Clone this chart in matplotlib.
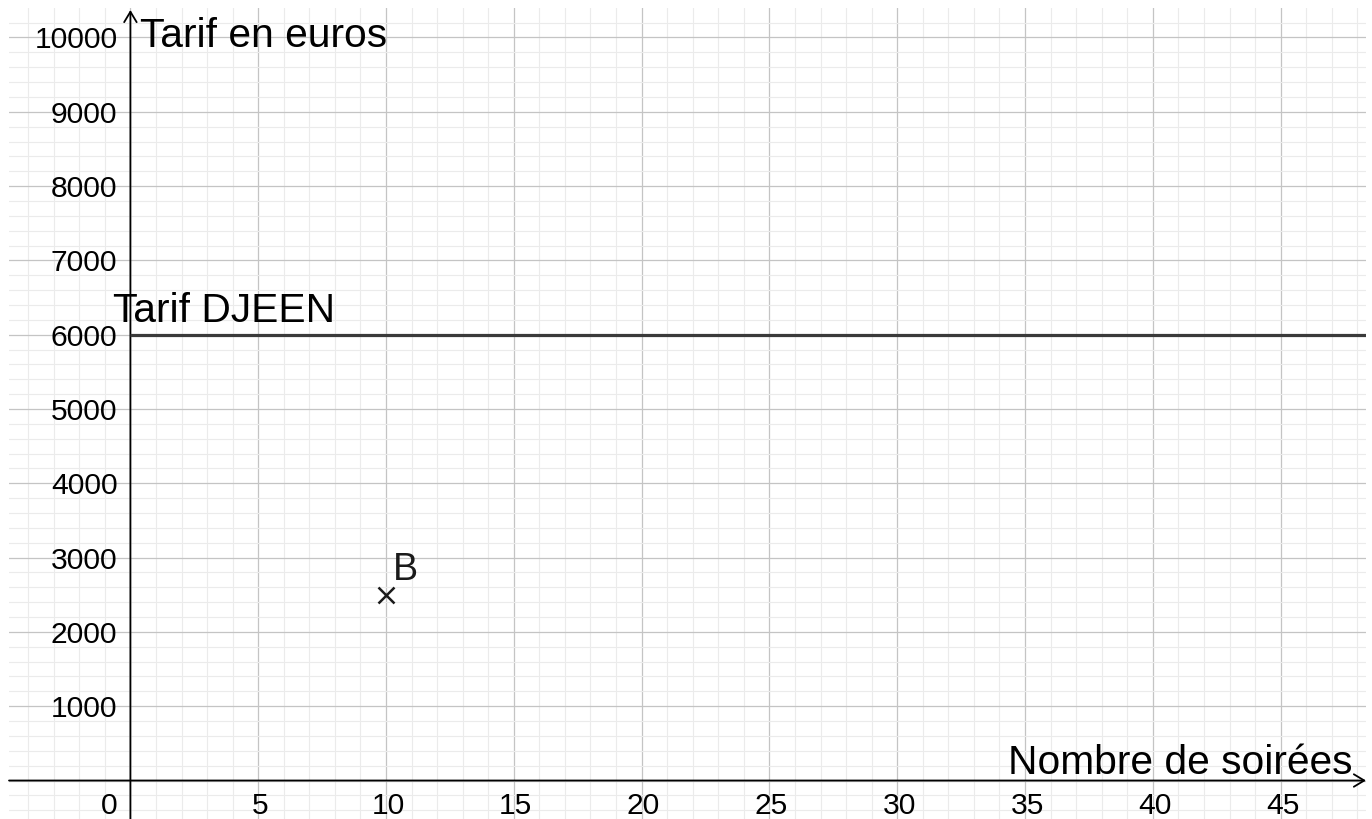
import matplotlib
matplotlib.use("Agg")
import matplotlib.pyplot as plt
from matplotlib.ticker import MultipleLocator

plt.rcParams['font.family'] = ['Liberation Sans', 'DejaVu Sans']

# ---- data ----
x_tick_values = [5, 10, 15, 20, 25, 30, 35, 40, 45]
y_tick_values = [1000, 2000, 3000, 4000, 5000, 6000, 7000, 8000, 9000, 10000]
djeen_tarif = 6000
djeen_x = [0, 48.34]
point_B_x = [10]
point_B_y = [2500]
point_B_name = "B"
x_label = "Nombre de soirées"
y_label = "Tarif en euros"
line_label = "Tarif DJEEN"

# ---- figure ----
W, H = 1372, 819
fig = plt.figure(figsize=(W / 100, H / 100), dpi=100)
ax = fig.add_axes([9 / W, 0, (1366 - 9) / W, (819 - 8) / H])

xmin, xmax = -4.75, 48.34
ymin, ymax = -518, 10397
ax.set_xlim(xmin, xmax)
ax.set_ylim(ymin, ymax)

for s in ax.spines.values():
    s.set_visible(False)

ax.xaxis.set_major_locator(MultipleLocator(5))
ax.xaxis.set_minor_locator(MultipleLocator(1))
ax.yaxis.set_major_locator(MultipleLocator(1000))
ax.yaxis.set_minor_locator(MultipleLocator(200))
ax.tick_params(which='both', length=0, labelbottom=False, labelleft=False)
ax.grid(which='minor', color='#ebebeb', lw=0.8, zorder=0)
ax.grid(which='major', color='#c4c4c4', lw=0.9, zorder=0)
ax.set_axisbelow(True)

# axes with open arrowheads
arrow_style = '->,head_length=0.75,head_width=0.45'
ax.annotate('', xy=(xmax, 0), xytext=(xmin, 0),
            arrowprops=dict(arrowstyle=arrow_style, lw=1.3, color='black',
                            shrinkA=0, shrinkB=0), annotation_clip=False, zorder=3)
ax.annotate('', xy=(0, 10370), xytext=(0, ymin),
            arrowprops=dict(arrowstyle=arrow_style, lw=1.3, color='black',
                            shrinkA=0, shrinkB=0), annotation_clip=False, zorder=3)

# tick labels
tick_fs = 21.6
for v in y_tick_values:
    ax.annotate(str(v), xy=(0, v), xytext=(-13, -3), textcoords='offset pixels',
                ha='right', va='center', fontsize=tick_fs, color='black')
for v in x_tick_values:
    ax.annotate(str(v), xy=(v, 0), xytext=(2, -11), textcoords='offset pixels',
                ha='center', va='top', fontsize=tick_fs, color='black')
ax.annotate('0', xy=(0, 0), xytext=(-13, -11), textcoords='offset pixels',
            ha='right', va='top', fontsize=tick_fs, color='black')

# axis labels
lab_fs = 29.3
ax.text(0.37, 9872, y_label, ha='left', va='baseline', fontsize=lab_fs, color='black')
ax.text(34.33, 87.5, x_label, ha='left', va='baseline', fontsize=lab_fs, color='black')

# DJEEN line
ax.plot(djeen_x, [djeen_tarif, djeen_tarif], color='#3a3a3a', lw=2.3, zorder=4,
        solid_capstyle='butt')
ax.text(-0.68, 6170, line_label, ha='left', va='baseline', fontsize=lab_fs, color='black',
        zorder=5)

# point B
ax.plot(point_B_x, point_B_y, marker='x', ls='none', markersize=11, mew=1.8,
        color='#1a1a1a', zorder=5)
ax.annotate(point_B_name, xy=(point_B_x[0], point_B_y[0]), xytext=(7, 15),
            textcoords='offset pixels', ha='left', va='baseline', fontsize=27,
            color='#1a1a1a')

fig.savefig('out.png', dpi=100, facecolor='white')
